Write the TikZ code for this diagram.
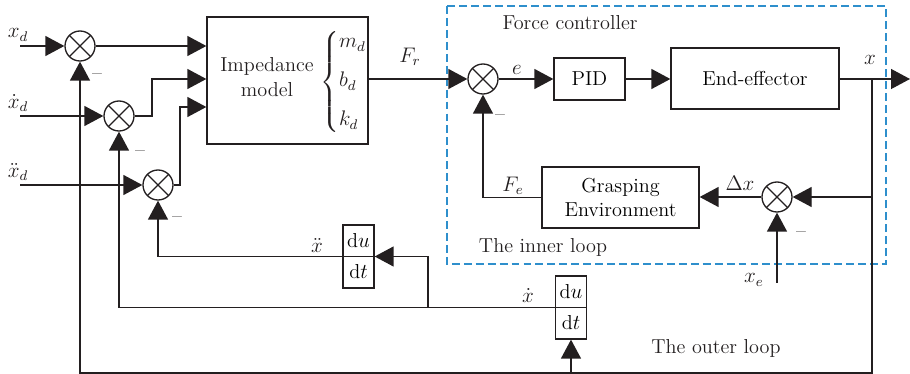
\documentclass[tikz,border=0pt]{standalone}
\usepackage{amsmath}
\usetikzlibrary{arrows.meta,calc,positioning}
\definecolor{Ink}{HTML}{231F20}
\definecolor{Frame}{HTML}{2E8FCC}

\begin{document}
\begin{tikzpicture}[
  x=0.02cm,y=-0.02cm,
  font=\fontsize{11.5}{14.2}\selectfont,
  sum/.style={circle, draw=Ink, line width=0.75pt, minimum size=6mm, inner sep=0pt,
    path picture={\draw[Ink, line width=0.7pt] (path picture bounding box.north west) -- (path picture bounding box.south east)
      (path picture bounding box.north east) -- (path picture bounding box.south west);}},
  block/.style={draw=Ink, line width=0.75pt, align=center, inner sep=2pt},
  deriv/.style={block, minimum width=6.2mm, minimum height=12.6mm, inner sep=0pt,
    path picture={\draw[Ink, line width=0.75pt] (path picture bounding box.west) -- (path picture bounding box.east);}},
  lbl/.style={inner sep=0.5pt, text=Ink},
  minus/.style={inner sep=0pt, text=Ink},
  line/.style={draw=Ink, line width=0.75pt},
  arr/.style={line, -{Triangle[length=3.8mm, width=4mm]}},
  loopbox/.style={draw=Frame, line width=0.85pt, dash pattern=on 4.5pt off 2.3pt}
]
  \useasboundingbox (0,0) rectangle (910,374);

  % force controller frame
  \draw[loopbox] (447,6) rectangle (886,264);
  \node[lbl] (fctl) at (570,23) {Force controller};
  \node[lbl] (inner) at (543,247) {The inner loop};
  \node[lbl] (outer) at (716,348) {The outer loop};

  % reference inputs
  \node[lbl] (xd) at (18,35) {$x_d$};
  \node[lbl] (xdd) at (18,103) {$\dot{x}_d$};
  \node[lbl] (xddd) at (18,172) {$\ddot{x}_d$};
  \coordinate (in1) at (20,46);
  \coordinate (in2) at (20,116);
  \coordinate (in3) at (20,185);

  \node[sum] (s1) at (80,46) {};
  \node[sum] (s2) at (119,116) {};
  \node[sum] (s3) at (158,185) {};
  \node[minus] (m1) at (97,77) {--};
  \node[minus] (m2) at (140,154) {--};
  \node[minus] (m3) at (177,220) {--};

  % impedance model
  \node[block, minimum width=3.22cm, minimum height=2.54cm] (imp) at (287.5,80.5) {};
  \node[lbl, align=center] (imptxt) at (267,77) {Impedance\\model};
  \node[lbl] (par) at (344,82) {$\left\{\begin{array}{@{}l@{}} m_d\\[8pt] b_d\\[8pt] k_d\end{array}\right.$};
  \coordinate (j2) at (152,79);
  \coordinate (j3) at (180,107);

  \draw[arr] (in1) -- (s1.west);
  \draw[arr] (in2) -- (s2.west);
  \draw[arr] (in3) -- (s3.west);
  \draw[arr] (s1.east) -- (s1.east -| imp.west);
  \draw[arr] (s2.east) -| (j2) -- (j2 -| imp.west);
  \draw[arr] (s3.east) -| (j3) -- (j3 -| imp.west);

  % inner loop
  \node[sum] (s4) at (483,79) {};
  \node[minus] (m4) at (500,118) {--};
  \node[lbl] (fr) at (410,57) {$F_r$};
  \node[lbl] (e) at (517,70) {$e$};
  \node[block, minimum width=1.42cm, minimum height=0.84cm] (pid) at (589.5,79) {PID};
  \node[block, minimum width=3.36cm, minimum height=1.22cm] (ee) at (755,78.5) {End-effector};
  \node[lbl] (xlab) at (870,60) {$x$};
  \coordinate (xb) at (872,79);
  \coordinate (out) at (910,79);
  \node[block, minimum width=3.14cm, minimum height=1.22cm] (env) at (620.5,197.5) {Grasping\\Environment};
  \node[sum] (s5) at (777,197) {};
  \node[minus] (m5) at (801,235) {--};
  \node[lbl] (dx) at (740,183) {$\Delta x$};
  \node[lbl] (fe) at (513,186) {$F_e$};
  \node[lbl] (xe) at (754,280) {$x_e$};
  \coordinate (xein) at (777,283);

  \draw[arr] (imp.east |- s4.west) -- (s4.west);
  \draw[arr] (s4.east) -- (pid.west);
  \draw[arr] (pid.east) -- (ee.west |- pid.east);
  \draw[arr] (ee.east |- xb) -- (out);
  \draw[arr] (xb) -- (xb |- s5) -- (s5.east);
  \draw[arr] (s5.west) -- (env.east |- s5.west);
  \draw[arr] (xein) -- (s5.south);
  \draw[arr] (env.west) -| (s4.south);

  % outer loop, derivatives
  \node[deriv] (d1) at (358.5,256.5) {d$u$\\[3.5pt]d$t$};
  \node[deriv] (d2) at (571,307.5) {d$u$\\[3.5pt]d$t$};
  \node[lbl] (xddlab) at (317,246) {$\ddot{x}$};
  \node[lbl] (xdlab) at (528,296) {$\dot{x}$};
  \coordinate (low) at (872,373);
  \coordinate (tap) at (428,308);

  \draw[arr] (xb) -- (low) -| (s1.south);
  \draw[arr] (d2.south |- low) -- (d2.south);
  \draw[arr] (d2.west) -| (s2.south);
  \draw[arr] (tap |- d2.west) |- (d1.east);
  \draw[arr] (d1.west) -| (s3.south);
\end{tikzpicture}
\end{document}
